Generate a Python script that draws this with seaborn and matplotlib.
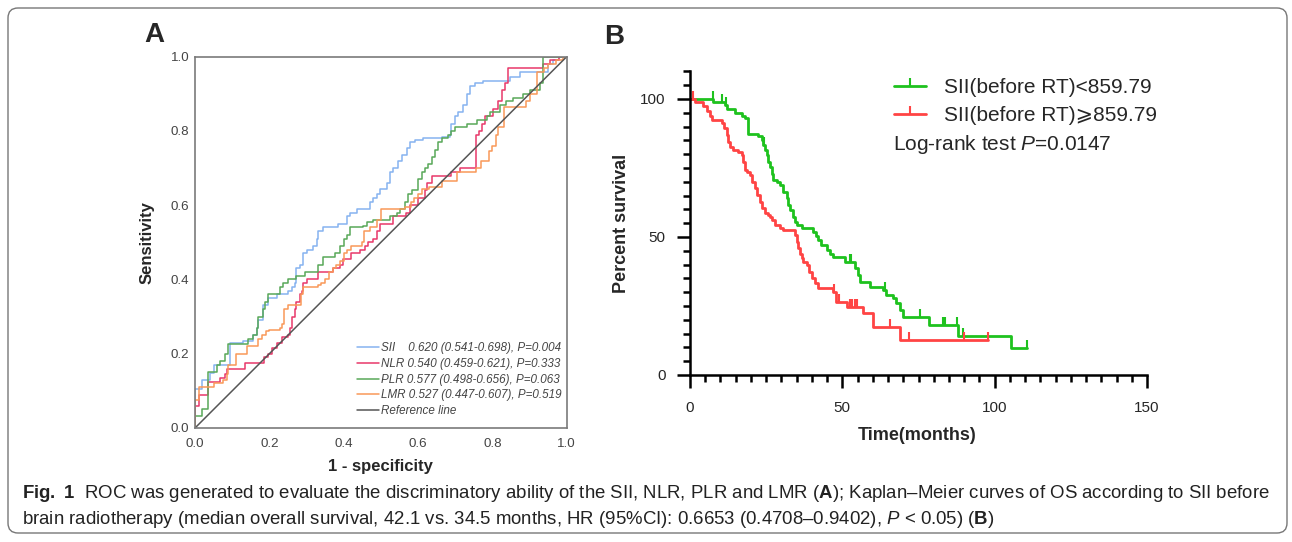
import numpy as np
import pandas as pd
import seaborn as sns
import matplotlib.pyplot as plt
from matplotlib.lines import Line2D
from matplotlib.patches import FancyBboxPatch
from matplotlib.ticker import MultipleLocator
from matplotlib.transforms import IdentityTransform

# ---- panel A: ROC curves, (1 - specificity, sensitivity) corner points ----
roc_sii = [(0, 0.105), (0.018, 0.13), (0.04, 0.148), (0.05, 0.17), (0.094, 0.229),
           (0.13, 0.235), (0.157, 0.25), (0.166, 0.27), (0.17, 0.29), (0.184, 0.33),
           (0.197, 0.35), (0.22, 0.36), (0.25, 0.37), (0.26, 0.38), (0.27, 0.39),
           (0.273, 0.43), (0.283, 0.44), (0.29, 0.47), (0.30, 0.48), (0.318, 0.49),
           (0.327, 0.51), (0.332, 0.53), (0.345, 0.54), (0.386, 0.55), (0.408, 0.57),
           (0.417, 0.58), (0.435, 0.59), (0.47, 0.61), (0.48, 0.62), (0.489, 0.63),
           (0.498, 0.645), (0.516, 0.66), (0.525, 0.69), (0.534, 0.70), (0.547, 0.72),
           (0.556, 0.735), (0.57, 0.755), (0.578, 0.77), (0.592, 0.775), (0.614, 0.78),
           (0.664, 0.785), (0.686, 0.79), (0.69, 0.82), (0.70, 0.84), (0.708, 0.85),
           (0.722, 0.87), (0.731, 0.90), (0.74, 0.92), (0.753, 0.93), (0.776, 0.935),
           (0.848, 0.945), (0.874, 0.96), (0.95, 0.98), (0.964, 0.99), (0.98, 1.0), (1.0, 1.0)]
roc_nlr = [(0, 0.058), (0.01, 0.09), (0.036, 0.125), (0.068, 0.135), (0.08, 0.145),
           (0.085, 0.16), (0.135, 0.175), (0.185, 0.19), (0.197, 0.20), (0.206, 0.215),
           (0.22, 0.23), (0.233, 0.245), (0.251, 0.25), (0.256, 0.27), (0.26, 0.30),
           (0.27, 0.32), (0.273, 0.34), (0.283, 0.36), (0.287, 0.37), (0.29, 0.39),
           (0.30, 0.40), (0.332, 0.42), (0.372, 0.43), (0.39, 0.44), (0.399, 0.455),
           (0.42, 0.47), (0.444, 0.48), (0.457, 0.49), (0.466, 0.50), (0.48, 0.51),
           (0.489, 0.53), (0.498, 0.55), (0.534, 0.57), (0.569, 0.58), (0.578, 0.60),
           (0.60, 0.62), (0.619, 0.64), (0.623, 0.66), (0.637, 0.68), (0.69, 0.69),
           (0.713, 0.70), (0.757, 0.79), (0.765, 0.80), (0.771, 0.82), (0.78, 0.84),
           (0.803, 0.86), (0.816, 0.88), (0.825, 0.91), (0.834, 0.93), (0.843, 0.97),
           (0.937, 0.98), (0.955, 0.99), (0.98, 1.0), (1.0, 1.0)]
roc_plr = [(0, 0.031), (0.02, 0.05), (0.036, 0.152), (0.058, 0.17), (0.068, 0.18),
           (0.08, 0.20), (0.09, 0.225), (0.143, 0.24), (0.157, 0.25), (0.166, 0.27),
           (0.17, 0.30), (0.184, 0.32), (0.188, 0.34), (0.197, 0.36), (0.229, 0.38),
           (0.238, 0.39), (0.25, 0.40), (0.273, 0.41), (0.296, 0.42), (0.332, 0.44),
           (0.345, 0.46), (0.377, 0.47), (0.39, 0.49), (0.40, 0.51), (0.408, 0.52),
           (0.417, 0.54), (0.453, 0.545), (0.462, 0.555), (0.48, 0.56), (0.525, 0.57),
           (0.543, 0.58), (0.552, 0.59), (0.565, 0.61), (0.574, 0.63), (0.583, 0.64),
           (0.60, 0.67), (0.61, 0.69), (0.619, 0.70), (0.628, 0.71), (0.637, 0.73),
           (0.646, 0.75), (0.655, 0.77), (0.664, 0.78), (0.682, 0.79), (0.69, 0.80),
           (0.70, 0.81), (0.731, 0.82), (0.758, 0.83), (0.785, 0.84), (0.794, 0.85),
           (0.82, 0.87), (0.838, 0.88), (0.856, 0.89), (0.883, 0.90), (0.90, 0.91),
           (0.928, 0.93), (0.937, 1.0), (1.0, 1.0)]
roc_lmr = [(0, 0.076), (0.01, 0.11), (0.05, 0.12), (0.075, 0.13), (0.085, 0.145),
           (0.09, 0.17), (0.11, 0.20), (0.14, 0.22), (0.17, 0.24), (0.18, 0.25),
           (0.19, 0.26), (0.20, 0.265), (0.23, 0.27), (0.235, 0.28), (0.24, 0.32),
           (0.25, 0.33), (0.285, 0.36), (0.29, 0.38), (0.33, 0.385), (0.34, 0.39),
           (0.35, 0.40), (0.36, 0.42), (0.37, 0.43), (0.38, 0.44), (0.39, 0.45),
           (0.40, 0.47), (0.41, 0.48), (0.42, 0.49), (0.45, 0.50), (0.455, 0.53),
           (0.47, 0.54), (0.49, 0.56), (0.50, 0.59), (0.565, 0.595), (0.58, 0.61),
           (0.59, 0.62), (0.60, 0.63), (0.61, 0.645), (0.63, 0.65), (0.665, 0.665),
           (0.705, 0.69), (0.755, 0.70), (0.77, 0.72), (0.79, 0.745), (0.80, 0.76),
           (0.81, 0.79), (0.815, 0.81), (0.83, 0.865), (0.89, 0.88), (0.90, 0.90),
           (0.92, 0.96), (0.94, 0.97), (0.95, 0.98), (0.97, 0.99), (0.99, 1.0), (1.0, 1.0)]
roc_labels = ["SII    0.620 (0.541-0.698), P=0.004",
              "NLR 0.540 (0.459-0.621), P=0.333",
              "PLR 0.577 (0.498-0.656), P=0.063",
              "LMR 0.527 (0.447-0.607), P=0.519"]
roc_colors = ["#86b3f0", "#e8386a", "#58a858", "#f99858"]
roc_ticks = [0.0, 0.2, 0.4, 0.6, 0.8, 1.0]

# ---- panel B: Kaplan-Meier steps (months, percent survival) ----
km_low = [(0, 100), (7.7, 99), (11.5, 98), (12.0, 96.4), (14.8, 95), (17.0, 94),
          (18.0, 93), (19.1, 87.2), (22.4, 86.5), (23.5, 85.3), (24.0, 83.5),
          (24.6, 81.6), (25.2, 79.7), (25.7, 77.3), (26.3, 75.5), (26.8, 73),
          (27.4, 70.6), (28.4, 69.8), (29.5, 68.8), (30.6, 66.4), (31.7, 64),
          (32.2, 61.6), (32.8, 59.8), (33.9, 57.4), (34.4, 55.6), (35.0, 54.3),
          (36.7, 53.1), (40.5, 51.9), (41.5, 50.2), (42.1, 48.9), (43.0, 47.1),
          (44.9, 45.3), (46.0, 44), (47.0, 42.9), (50.8, 41), (54.0, 38.6),
          (55.1, 36.2), (55.7, 33.8), (59.0, 32), (63.3, 30.8), (64.4, 29),
          (66.6, 27.8), (67.7, 26), (68.8, 23.6), (69.9, 20.9), (78.6, 18.1),
          (88.0, 14.1), (105.5, 9.7)]
km_low_end = 110.5
km_low_censor = [7.5, 10.5, 11.8, 24.3, 52.5, 53.0, 63.9, 75.4, 83.0, 83.6, 87.5, 89.6, 110.5]

km_high = [(0, 100), (1.6, 98.8), (4.4, 97.6), (5.5, 95.8), (6.6, 94), (7.1, 92.3),
           (10.4, 91.2), (11.0, 89.4), (12.0, 87), (12.6, 84.5), (13.1, 82.7),
           (14.2, 81.5), (15.9, 80.9), (17.0, 79.7), (17.5, 77.3), (18.1, 74.3),
           (18.6, 73.7), (19.7, 72.5), (20.2, 70), (21.3, 67.6), (21.9, 65.2),
           (23.0, 62.8), (23.5, 60.4), (24.6, 58.6), (25.7, 58), (26.2, 57.2),
           (26.8, 56.2), (27.9, 54.3), (29.5, 53.1), (30.6, 52.5), (34.5, 50.7),
           (35.0, 48.3), (35.6, 45.9), (36.1, 44), (36.6, 42.3), (37.2, 41.1),
           (38.3, 39.9), (39.0, 37.5), (40.0, 35.2), (41.0, 33.5), (42.0, 31.4),
           (47.0, 30.2), (48.0, 26.6), (51.4, 24.8), (56.9, 22.3), (60.2, 17.5),
           (68.9, 12.7)]
km_high_end = 97.9
km_high_censor = [1.0, 47.2, 49.0, 52.5, 53.2, 54.0, 54.7, 65.6, 72.0, 90.0, 97.9]

km_labels = ["SII(before RT)<859.79", "SII(before RT)\u2a7e859.79"]
km_colors = ["#1ec21e", "#ff4444"]

caption1 = (r"$\mathbf{Fig.\ 1}$  ROC was generated to evaluate the discriminatory ability of the "
            r"SII, NLR, PLR and LMR ($\mathbf{A}$); Kaplan–Meier curves of OS according to SII before")
caption2 = (r"brain radiotherapy (median overall survival, 42.1 vs. 34.5 months, HR (95%CI): "
            r"0.6653 (0.4708–0.9402), $\mathit{P}$ < 0.05) ($\mathbf{B}$)")

sns.set_theme(style="white")
plt.rcParams['font.family'] = ['Liberation Sans', 'DejaVu Sans']
plt.rcParams['mathtext.fontset'] = 'custom'
plt.rcParams['mathtext.rm'] = 'Liberation Sans'
plt.rcParams['mathtext.it'] = 'Liberation Sans:italic'
plt.rcParams['mathtext.bf'] = 'Liberation Sans:bold'

W, H = 1292, 542
fig = plt.figure(figsize=(W / 100, H / 100), dpi=100)
fig.patch.set_facecolor('white')

# ---------- A ----------
axA = fig.add_axes([195 / W, 1 - 428 / H, 371.7 / W, 371.3 / H])
for pts, lab, col in zip([roc_sii, roc_nlr, roc_plr, roc_lmr], roc_labels, roc_colors):
    df = pd.DataFrame([(0, 0)] + pts, columns=['fpr', 'tpr'])
    sns.lineplot(data=df, x='fpr', y='tpr', ax=axA, color=col, lw=1.1,
                 drawstyle='steps-post', estimator=None, sort=False, label=lab)
sns.lineplot(x=[0, 1], y=[0, 1], ax=axA, color='#555555', lw=1.1,
             estimator=None, sort=False, label='Reference line')
axA.set_xlim(0, 1)
axA.set_ylim(0, 1)
axA.set_xticks(roc_ticks)
axA.set_yticks(roc_ticks)
axA.set_xticklabels([f"{v:.1f}" for v in roc_ticks])
axA.set_yticklabels([f"{v:.1f}" for v in roc_ticks])
axA.tick_params(length=0, labelsize=9.6, labelcolor='#444444')
axA.tick_params(axis='x', pad=7)
axA.tick_params(axis='y', pad=4)
for sp in axA.spines.values():
    sp.set_color('#7a7a7a')
    sp.set_linewidth(1.2)
axA.set_xlabel('1 - specificity', fontsize=12, fontweight='bold')
axA.set_ylabel('Sensitivity', fontsize=12, fontweight='bold')
axA.xaxis.set_label_coords(0.5, -0.104)
axA.yaxis.set_label_coords(-0.13, 0.5)
axA.xaxis.label.set_va('center')
axA.yaxis.label.set_va('center')
legA = axA.legend(loc='lower left', bbox_to_anchor=(0.435, 0.03), frameon=False,
                  fontsize=8.4, borderpad=0, borderaxespad=0, labelspacing=0.31,
                  handlelength=1.9, handletextpad=0.2)
for t in legA.get_texts():
    t.set_fontstyle('italic')
    t.set_color('#444444')

# ---------- B ----------
axB = fig.add_axes([690 / W, 1 - 375 / H, 457 / W, 303.6 / H])
for pts, end, cens, col in zip([km_low, km_high], [km_low_end, km_high_end],
                               [km_low_censor, km_high_censor], km_colors):
    df = pd.DataFrame(pts + [(end, pts[-1][1])], columns=['time', 'surv'])
    sns.lineplot(data=df, x='time', y='surv', ax=axB, color=col, lw=2.0,
                 drawstyle='steps-post', estimator=None, sort=False)
    times = np.array([p[0] for p in pts])
    survs = np.array([p[1] for p in pts])
    cs = survs[np.searchsorted(times, cens, side='right') - 1]
    axB.plot(cens, cs, ls='none', marker=2, ms=6, mew=1.5, color=col)

axB.set_xlim(0, 150)
axB.set_ylim(0, 110)
axB.set_xticks([0, 50, 100, 150])
axB.set_yticks([0, 50, 100])
axB.xaxis.set_minor_locator(MultipleLocator(5))
axB.yaxis.set_minor_locator(MultipleLocator(5))
axB.tick_params(which='both', direction='out', bottom=True, left=True,
                width=1.8, color='black')
axB.tick_params(which='major', length=9.5, labelsize=11)
axB.tick_params(which='minor', length=5)
axB.tick_params(axis='x', which='major', pad=9)
axB.tick_params(axis='y', which='major', pad=8)
for s in ['top', 'right']:
    axB.spines[s].set_visible(False)
for s in ['left', 'bottom']:
    axB.spines[s].set_color('black')
    axB.spines[s].set_linewidth(1.8)
axB.set_xlabel('Time(months)', fontsize=13, fontweight='bold')
axB.set_ylabel('Percent survival', fontsize=13, fontweight='bold')
axB.xaxis.set_label_coords(0.497, -0.198)
axB.yaxis.set_label_coords(-0.15, 0.5)
axB.xaxis.label.set_va('center')
axB.yaxis.label.set_va('center')

handles = [Line2D([], [], color=c, lw=2.0, marker=2, ms=6, mew=1.5) for c in km_colors]
axB.legend(handles, km_labels, loc='upper left', bbox_to_anchor=(0.446, 0.977),
           frameon=False, fontsize=15, numpoints=1, borderpad=0, borderaxespad=0,
           labelspacing=0.42, handlelength=1.55, handletextpad=0.85)
axB.text(0.444, 0.758, r"Log-rank test $\mathit{P}$=0.0147", transform=axB.transAxes,
         fontsize=15, va='center', ha='left')

# ---------- labels, caption, border ----------
fig.text(154 / W, 1 - 35 / H, 'A', fontsize=20, fontweight='bold', ha='center', va='center')
fig.text(614 / W, 1 - 37.5 / H, 'B', fontsize=20, fontweight='bold', ha='center', va='center')

fs = 12
t1 = fig.text(22 / W, 1 - 494 / H, caption1, fontsize=fs, ha='left', va='center', color='#222222')
t2 = fig.text(22 / W, 1 - 520 / H, caption2, fontsize=fs, ha='left', va='center', color='#222222')
r = fig.canvas.get_renderer()
w = t1.get_window_extent(r).width
fs = fs * 1250 / w
t1.set_fontsize(fs)
t2.set_fontsize(fs)

border = FancyBboxPatch((8, 9), 1279, 525, boxstyle='round,pad=0,rounding_size=10',
                        transform=IdentityTransform(), fill=False, ec='#777777', lw=1.0)
fig.add_artist(border)

fig.savefig('out.png', dpi=100, facecolor='white')
